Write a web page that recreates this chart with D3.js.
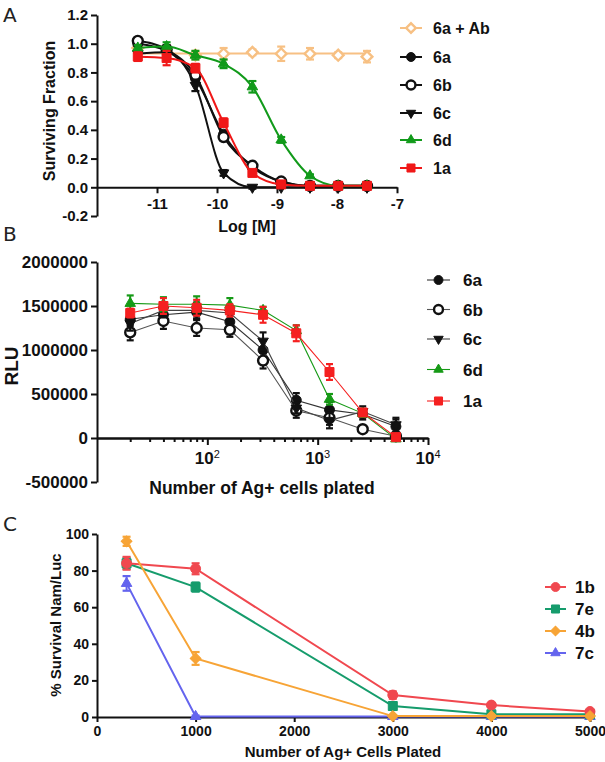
<!DOCTYPE html>
<html>
<head>
<meta charset="utf-8">
<script src="https://cdn.jsdelivr.net/npm/d3@7"></script>
<style>
  body { margin: 0; background: #fff; }
  svg { display: block; font-family: "Liberation Sans", Arial, sans-serif; font-weight: bold; }
</style>
</head>
<body>
<svg id="fig" width="605" height="762"></svg>
<script>
// ---- panel A : surviving fraction vs log concentration ----
const concA = [-11.32, -10.84, -10.36, -9.89, -9.41, -8.93, -8.45, -7.98, -7.5];
const namesA = ["6a + Ab", "6a", "6b", "6c", "6d", "1a"];
const survA_6aAb = [0.97, 0.94, 0.92, 0.93, 0.94, 0.93, 0.93, 0.92, 0.91];
const survA_6a   = [1.00, 0.95, 0.76, 0.37, 0.14, 0.04, 0.01, 0.01, 0.01];
const survA_6b   = [1.02, 0.96, 0.78, 0.35, 0.15, 0.04, 0.01, 0.01, 0.01];
const survA_6c   = [0.93, 0.94, 0.71, 0.10, 0.00, 0.00, 0.00, 0.00, 0.00];
const survA_6d   = [0.97, 0.98, 0.92, 0.86, 0.70, 0.33, 0.08, 0.01, 0.01];
const survA_1a   = [0.91, 0.90, 0.83, 0.45, 0.10, 0.02, 0.01, 0.01, 0.01];
const errA_6aAb  = [0.03, 0.05, 0.03, 0.04, 0.02, 0.05, 0.04, 0.02, 0.04];
const errA_6a    = [0.02, 0.03, 0.03, 0.02, 0.02, 0.01, 0.01, 0.01, 0.01];
const errA_6b    = [0.02, 0.03, 0.03, 0.02, 0.02, 0.01, 0.01, 0.01, 0.01];
const errA_6c    = [0.02, 0.03, 0.04, 0.02, 0.01, 0.00, 0.00, 0.00, 0.00];
const errA_6d    = [0.02, 0.03, 0.03, 0.03, 0.04, 0.02, 0.01, 0.01, 0.01];
const errA_1a    = [0.03, 0.05, 0.03, 0.03, 0.02, 0.01, 0.01, 0.01, 0.01];
const yTicksA = [-0.2, 0, 0.2, 0.4, 0.6, 0.8, 1.0, 1.2];
const xTicksA = [-11, -10, -9, -8, -7];

// ---- panel B : RLU vs cells plated ----
const cellsB = [20, 40, 80, 160, 320, 640, 1280, 2560, 5120];
const namesB = ["6a", "6b", "6c", "6d", "1a"];
const rluB_6a = [1350000, 1400000, 1430000, 1320000, 1000000, 430000, 320000, 270000, 130000];
const rluB_6b = [1200000, 1330000, 1250000, 1230000, 880000, 310000, 230000, 100000, 20000];
const rluB_6c = [1300000, 1450000, 1450000, 1420000, 1100000, 340000, 200000, 300000, 150000];
const rluB_6d = [1530000, 1520000, 1520000, 1510000, 1450000, 1220000, 440000, 280000, -10000];
const rluB_1a = [1420000, 1500000, 1480000, 1450000, 1400000, 1190000, 750000, 290000, 10000];
const errB_6a = [80000, 70000, 80000, 90000, 110000, 80000, 90000, 60000, 80000];
const errB_6b = [90000, 90000, 90000, 80000, 90000, 80000, 80000, 30000, 30000];
const errB_6c = [80000, 80000, 90000, 80000, 100000, 60000, 90000, 60000, 80000];
const errB_6d = [90000, 80000, 90000, 80000, 40000, 60000, 60000, 40000, 20000];
const errB_1a = [50000, 90000, 90000, 70000, 90000, 90000, 90000, 30000, 30000];
const yTicksB = [-500000, 0, 500000, 1000000, 1500000, 2000000];
const xMajorB = [100, 1000, 10000];

// ---- panel C : % survival vs cells plated ----
const cellsC = [300, 1000, 3000, 4000, 5000];
const namesC = ["1b", "7e", "4b", "7c"];
const survC_1b = [84, 81, 12, 6.5, 3];
const survC_7e = [84, 71, 6, 1.5, 1.5];
const survC_4b = [96, 32, 0.5, 0.5, 0.5];
const survC_7c = [73, 0.3, 0.3, 0.3, 0.3];
const errC_1b = [3.5, 3, 2, 0.5, 0.5];
const errC_7e = [3, 2.5, 2, 0.5, 0.3];
const errC_4b = [2.5, 3.5, 0.5, 0.3, 0.3];
const errC_7c = [4, 0.5, 0.3, 0.3, 0.3];
const yTicksC = [0, 20, 40, 60, 80, 100];
const xTicksC = [0, 1000, 2000, 3000, 4000, 5000];

const svg = d3.select("svg#fig");

// marker shapes
const shapes = {
  circle:   { type: d3.symbolCircle,   size: 78, rot: 0 },
  square:   { type: d3.symbolSquare,   size: 81, rot: 0 },
  diamond:  { type: d3.symbolSquare,   size: 58, rot: 45 },
  triUp:    { type: d3.symbolTriangle, size: 48, rot: 0 },
  triDown:  { type: d3.symbolTriangle, size: 48, rot: 180 }
};

function drawMarker(g, s, cx, cy, scale) {
  const sh = shapes[s.shape];
  g.append("path")
    .attr("d", d3.symbol().type(sh.type).size(sh.size * (scale || 1))())
    .attr("transform", `translate(${cx},${cy}) rotate(${sh.rot})`)
    .attr("fill", s.open ? "#fff" : s.color)
    .attr("stroke", s.color)
    .attr("stroke-width", s.open ? 2.4 : 1);
}

function drawSeries(g, x, y, xs, s, opt) {
  const pts = xs.map((v, i) => [x(v), y(s.values[i])]);
  if (opt.flat) {
    const m = d3.mean(s.values);
    g.append("line")
      .attr("x1", x(xs[0])).attr("x2", x(xs[xs.length - 1]))
      .attr("y1", y(m)).attr("y2", y(m))
      .attr("stroke", s.lineColor || s.color).attr("stroke-width", opt.lw);
  } else {
    g.append("path")
      .attr("d", d3.line().curve(opt.curve)(pts))
      .attr("fill", "none")
      .attr("stroke", s.lineColor || s.color)
      .attr("stroke-width", opt.lw);
  }
  s.errors.forEach((e, i) => {
    if (!e) return;
    const cx = x(xs[i]);
    const y1 = y(s.values[i] - e), y2 = y(s.values[i] + e);
    g.append("line").attr("x1", cx).attr("x2", cx).attr("y1", y1).attr("y2", y2)
      .attr("stroke", s.color).attr("stroke-width", 2);
    [y1, y2].forEach(yy => g.append("line")
      .attr("x1", cx - opt.cap / 2).attr("x2", cx + opt.cap / 2)
      .attr("y1", yy).attr("y2", yy)
      .attr("stroke", s.color).attr("stroke-width", 2.2));
  });
  pts.forEach(p => drawMarker(g, s, p[0], p[1]));
}

function styleAxis(g, fs) {
  g.attr("font-family", null).attr("font-size", null);
  g.select(".domain").attr("stroke", "#111").attr("stroke-width", 2);
  g.selectAll(".tick line").attr("stroke", "#111").attr("stroke-width", 2);
  g.selectAll(".tick text").attr("fill", "#111").attr("font-size", fs);
}

function legend(g, list, x0, x1, tx, ys, fs, lw) {
  list.forEach((s, i) => {
    g.append("line").attr("x1", x0).attr("x2", x1).attr("y1", ys[i]).attr("y2", ys[i])
      .attr("stroke", s.lineColor || s.color).attr("stroke-width", lw);
    drawMarker(g, s, (x0 + x1) / 2, ys[i], 0.8);
    g.append("text").attr("x", tx).attr("y", ys[i]).attr("dy", "0.36em")
      .attr("font-size", fs).attr("fill", "#111").text(s.name);
  });
}

function panelLetter(t, x, y) {
  svg.append("text").attr("x", x).attr("y", y)
    .attr("font-family", "'DejaVu Sans', 'Open Sans', sans-serif")
    .attr("font-weight", "normal").attr("font-size", 20).attr("fill", "#222").text(t);
}

// ================= Panel A =================
{
  const g = svg.append("g");
  const x = d3.scaleLinear().domain([-12, -7]).range([97, 397]);
  const y = d3.scaleLinear().domain([-0.2, 1.2]).range([216, 15]);

  const ga = g.append("g").attr("transform", "translate(97,0)")
    .call(d3.axisLeft(y).tickValues(yTicksA).tickSize(6).tickSizeOuter(0).tickPadding(3)
      .tickFormat(d => d.toFixed(1)));
  styleAxis(ga, 15);
  const gx = g.append("g").attr("transform", `translate(0,${y(0)})`)
    .call(d3.axisBottom(x).tickValues(xTicksA).tickSize(6).tickSizeOuter(0).tickPadding(5)
      .tickFormat(d => String(d)));
  styleAxis(gx, 15);

  const series = [
    { name: namesA[0], values: survA_6aAb, errors: errA_6aAb, color: "#f7c083", shape: "diamond", open: true },
    { name: namesA[1], values: survA_6a, errors: errA_6a, color: "#111", shape: "circle" },
    { name: namesA[2], values: survA_6b, errors: errA_6b, color: "#111", shape: "circle", open: true },
    { name: namesA[3], values: survA_6c, errors: errA_6c, color: "#111", shape: "triDown" },
    { name: namesA[4], values: survA_6d, errors: errA_6d, color: "#119a1a", shape: "triUp" },
    { name: namesA[5], values: survA_1a, errors: errA_1a, color: "#f01818", shape: "square" }
  ];
  series.forEach((s, i) => drawSeries(g, x, y, concA, s,
    { curve: d3.curveMonotoneX, lw: 2, cap: 8, flat: i === 0 }));

  legend(g, series, 400, 422, 433, [28, 57, 85, 113, 140, 168], 16, 2);

  g.append("text").attr("transform", "translate(55,111) rotate(-90)")
    .attr("text-anchor", "middle").attr("font-size", 16).attr("fill", "#111").text("Surviving Fraction");
  g.append("text").attr("x", 247).attr("y", 232)
    .attr("text-anchor", "middle").attr("font-size", 16).attr("fill", "#111").text("Log [M]");
}

// ================= Panel B =================
{
  const g = svg.append("g");
  const x = d3.scaleLog().domain([10, 10000]).range([97, 428]);
  const y = d3.scaleLinear().domain([-500000, 2000000]).range([482, 262]);

  const ga = g.append("g").attr("transform", "translate(97,0)")
    .call(d3.axisLeft(y).tickValues(yTicksB).tickSize(6).tickSizeOuter(0).tickPadding(3)
      .tickFormat(d => String(d)));
  styleAxis(ga, 17);

  const minor = x.ticks().filter(v => xMajorB.indexOf(v) < 0 && v !== 10);
  const gm = g.append("g").attr("transform", `translate(0,${y(0)})`)
    .call(d3.axisBottom(x).tickValues(minor).tickSize(4).tickSizeOuter(0).tickFormat(""));
  styleAxis(gm, 10);
  const gx = g.append("g").attr("transform", `translate(0,${y(0)})`)
    .call(d3.axisBottom(x).tickValues(xMajorB).tickSize(7).tickSizeOuter(0).tickFormat(""));
  styleAxis(gx, 10);
  xMajorB.forEach(v => {
    const t = g.append("text").attr("x", x(v)).attr("y", 464)
      .attr("text-anchor", "middle").attr("font-size", 17).attr("fill", "#111");
    t.append("tspan").text("10");
    t.append("tspan").attr("dy", -6).attr("font-size", 11).attr("font-weight", "normal")
      .text(String(Math.round(Math.log10(v))));
  });

  const series = [
    { name: namesB[0], values: rluB_6a, errors: errB_6a, color: "#111", lineColor: "#333", shape: "circle" },
    { name: namesB[1], values: rluB_6b, errors: errB_6b, color: "#111", lineColor: "#555", shape: "circle", open: true },
    { name: namesB[2], values: rluB_6c, errors: errB_6c, color: "#111", lineColor: "#444", shape: "triDown" },
    { name: namesB[3], values: rluB_6d, errors: errB_6d, color: "#169a16", shape: "triUp" },
    { name: namesB[4], values: rluB_1a, errors: errB_1a, color: "#f52020", shape: "square" }
  ];
  series.forEach(s => drawSeries(g, x, y, cellsB, s, { curve: d3.curveLinear, lw: 1.1, cap: 7 }));

  legend(g, series, 427, 450, 463, [280, 309.5, 339, 369.5, 401], 17, 1.1);

  g.append("text").attr("transform", "translate(18,366) rotate(-90)")
    .attr("text-anchor", "middle").attr("font-size", 19).attr("fill", "#111").text("RLU");
  g.append("text").attr("x", 262).attr("y", 494)
    .attr("text-anchor", "middle").attr("font-size", 17.5).attr("fill", "#111").text("Number of Ag+ cells plated");
}

// ================= Panel C =================
{
  const g = svg.append("g");
  const x = d3.scaleLinear().domain([0, 5000]).range([97, 590]);
  const y = d3.scaleLinear().domain([0, 100]).range([717, 534]);

  const ga = g.append("g").attr("transform", "translate(97,0)")
    .call(d3.axisLeft(y).tickValues(yTicksC).tickSize(5).tickSizeOuter(0).tickPadding(3)
      .tickFormat(d => String(d)));
  styleAxis(ga, 14);
  const gx = g.append("g").attr("transform", `translate(0,${y(0)})`)
    .call(d3.axisBottom(x).tickValues(xTicksC).tickSize(5).tickSizeOuter(0).tickPadding(4)
      .tickFormat(d => String(d)));
  styleAxis(gx, 14);

  const s1b = { name: namesC[0], values: survC_1b, errors: errC_1b, color: "#f0484f", shape: "circle" };
  const s7e = { name: namesC[1], values: survC_7e, errors: errC_7e, color: "#169c6c", shape: "square" };
  const s4b = { name: namesC[2], values: survC_4b, errors: errC_4b, color: "#f7a436", shape: "diamond" };
  const s7c = { name: namesC[3], values: survC_7c, errors: errC_7c, color: "#6464ee", shape: "triUp" };
  [s7c, s7e, s1b, s4b].forEach(s => drawSeries(g, x, y, cellsC, s, { curve: d3.curveLinear, lw: 2, cap: 8 }));

  legend(g, [s1b, s7e, s4b, s7c], 545, 566, 575, [587, 609, 631, 653], 17, 2);

  g.append("text").attr("transform", "translate(61,625) rotate(-90)")
    .attr("text-anchor", "middle").attr("font-size", 15).attr("fill", "#111").text("% Survival Nam/Luc");
  g.append("text").attr("x", 343).attr("y", 757)
    .attr("text-anchor", "middle").attr("font-size", 15).attr("fill", "#111").text("Number of Ag+ Cells Plated");
}

panelLetter("A", 3, 22);
panelLetter("B", 3, 241);
panelLetter("C", 3, 531);
</script>
</body>
</html>
